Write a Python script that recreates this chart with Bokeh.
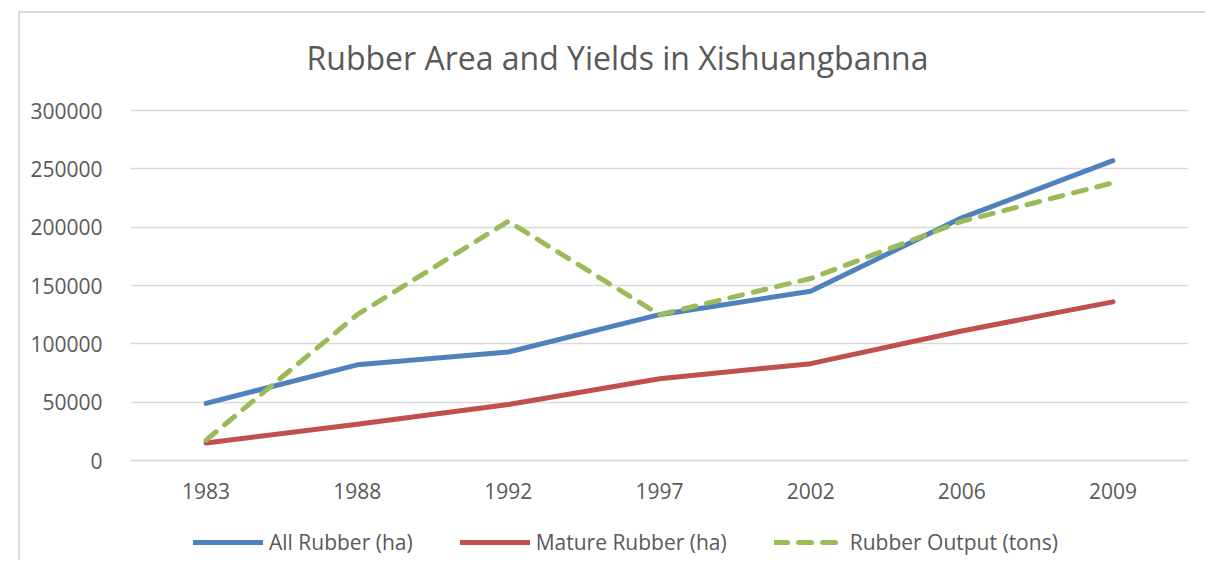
from bokeh.plotting import figure
from bokeh.models import (FactorRange, Range1d, FixedTicker, Legend, LegendItem,
                          BasicTickFormatter, Label)
from bokeh.embed import file_html
from bokeh.resources import INLINE

years = ["1983", "1988", "1992", "1997", "2002", "2006", "2009"]
all_rubber = [49000, 82000, 93000, 125000, 145000, 208000, 257000]
mature_rubber = [15000, 31000, 48000, 70000, 83000, 111000, 136000]
rubber_output = [17500, 125000, 205000, 125000, 156000, 205000, 238000]
y_ticks = [0, 50000, 100000, 150000, 200000, 250000, 300000]
title_text = "Rubber Area and Yields in Xishuangbanna"

TEXT = "#595959"
GRID = "#d9d9d9"
FONT = "Open Sans"

# layout: value axis 0..300000 spans 350 px; the frame is extended above and
# below that span so the title and legend can sit inside it
PX_PER_UNIT = 350 / 300000
TOP_PX, BOTTOM_PX = 97, 100

p = figure(
    x_range=FactorRange(*years, range_padding=0),
    y_range=Range1d(-BOTTOM_PX / PX_PER_UNIT, 300000 + TOP_PX / PX_PER_UNIT),
    frame_width=1058, frame_height=350 + TOP_PX + BOTTOM_PX,
    output_backend="svg", toolbar_location=None,
    min_border_left=110, min_border_right=17,
    min_border_top=0, min_border_bottom=0,
)
p.styles = {"margin-left": "18px", "margin-top": "11px",
            "border-left": "2px solid #dadada", "border-top": "2px solid #dadada"}

p.outline_line_color = None
p.xgrid.grid_line_color = None
p.ygrid.ticker = FixedTicker(ticks=y_ticks)
p.ygrid.grid_line_color = GRID
p.ygrid.grid_line_width = 1.3

p.yaxis.ticker = FixedTicker(ticks=y_ticks)
p.yaxis.formatter = BasicTickFormatter(use_scientific=False)
p.yaxis.axis_line_color = None
p.yaxis.major_tick_line_color = None
p.yaxis.minor_tick_line_color = None
p.yaxis.major_label_standoff = 22
p.xaxis.fixed_location = 0
p.xaxis.axis_line_color = GRID
p.xaxis.axis_line_width = 1.3
p.xaxis.major_tick_line_color = None
p.xaxis.minor_tick_line_color = None
p.xaxis.major_label_standoff = 16
for ax in (p.xaxis, p.yaxis):
    ax.major_label_text_font = FONT
    ax.major_label_text_font_size = "21px"
    ax.major_label_text_color = TEXT

r1 = p.line(years, all_rubber, line_color="#4f81bd", line_width=5, line_cap="round", line_join="round")
r2 = p.line(years, mature_rubber, line_color="#c0504d", line_width=5, line_cap="round", line_join="round")
r3 = p.line(years, rubber_output, line_color="#9bbb59", line_width=5, line_cap="round", line_join="round",
            line_dash="13 11")

title = Label(x=487, y=350 + TOP_PX + BOTTOM_PX - 44, x_units="screen", y_units="screen",
              text=title_text, text_align="center", text_baseline="alphabetic",
              text_font=FONT, text_font_size="32px", text_color=TEXT)
p.add_layout(title)

legend = Legend(items=[
    LegendItem(label="All Rubber (ha)", renderers=[r1]),
    LegendItem(label="Mature Rubber (ha)", renderers=[r2]),
    LegendItem(label="Rubber Output (tons)", renderers=[r3]),
], orientation="horizontal", location=(63, 4))
legend.label_text_font = FONT
legend.label_text_font_size = "21px"
legend.label_text_color = TEXT
legend.glyph_width = 70
legend.glyph_height = 20
legend.spacing = 47
legend.label_standoff = 6
legend.border_line_color = None
legend.background_fill_alpha = 0
legend.margin = 0
legend.padding = 0
p.add_layout(legend, "center")

open("out.html", "w").write(file_html(p, INLINE))
